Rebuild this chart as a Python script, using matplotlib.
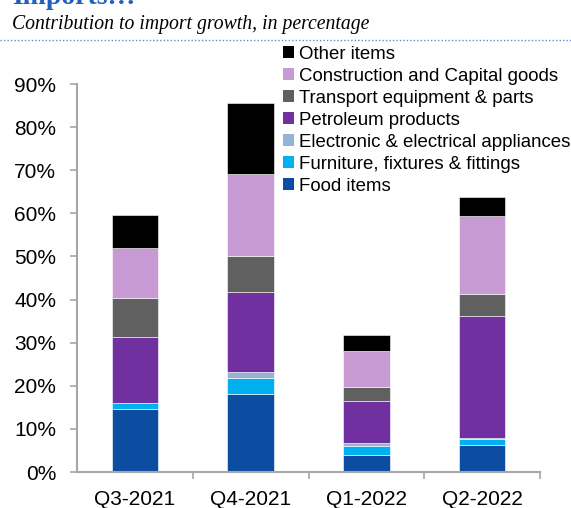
import matplotlib
matplotlib.use("Agg")
import matplotlib.pyplot as plt
from matplotlib.lines import Line2D
from matplotlib.patches import Patch
from matplotlib.ticker import FixedLocator, PercentFormatter

plt.rcParams["font.family"] = ["Liberation Sans", "DejaVu Sans"]

# ---------------------------------------------------------------------------
# Data (contribution to import growth, % points)
# ---------------------------------------------------------------------------
quarters = ["Q3-2021", "Q4-2021", "Q1-2022", "Q2-2022"]

food         = [14.6, 18.1, 3.9, 6.2]
furniture    = [1.4, 3.6, 2.1, 1.5]
electronics  = [0.1, 1.4, 0.7, 0.1]
petroleum    = [15.1, 18.6, 9.7, 28.4]
transport    = [9.1, 8.5, 3.3, 5.2]
construction = [11.6, 19.0, 8.4, 17.9]
other        = [7.6, 16.5, 3.7, 4.4]

series = [
    ("Food items",                        food,         "#0C4DA2"),
    ("Furniture, fixtures & fittings",    furniture,    "#00B0F0"),
    ("Electronic & electrical appliances", electronics, "#95B3D7"),
    ("Petroleum products",                petroleum,    "#7030A0"),
    ("Transport equipment & parts",       transport,    "#606060"),
    ("Construction and Capital goods",    construction, "#C89AD3"),
    ("Other items",                       other,        "#000000"),
]

AXIS_GRAY = "#A6A6A6"

fig = plt.figure(figsize=(5.71, 5.08), dpi=100)
ax = fig.add_axes([77 / 571, 1 - 472 / 508, (540 - 77) / 571, (472 - 84) / 508])

x = range(len(quarters))
bottom = [0.0] * len(quarters)
for name, vals, color in series:
    ax.bar(x, vals, width=0.4, bottom=bottom, color=color,
           edgecolor="white", linewidth=0.4, label=name)
    bottom = [b + v for b, v in zip(bottom, vals)]

ax.set_xlim(-0.5, len(quarters) - 0.5)
ax.set_ylim(0, 90)
ax.yaxis.set_major_locator(FixedLocator(range(0, 91, 10)))
ax.yaxis.set_major_formatter(PercentFormatter(decimals=0))

ax.set_xticks(list(x))
ax.set_xticklabels(quarters)
ax.xaxis.set_minor_locator(FixedLocator([0.5, 1.5, 2.5, 3.5]))
ax.tick_params(axis="x", which="major", length=0, pad=13, labelsize=15)
ax.tick_params(axis="x", which="minor", length=5, color=AXIS_GRAY, width=1.2)
ax.tick_params(axis="y", length=5, color=AXIS_GRAY, width=1.2, pad=10, labelsize=15)

for side in ("top", "right"):
    ax.spines[side].set_visible(False)
for side in ("left", "bottom"):
    ax.spines[side].set_color(AXIS_GRAY)
    ax.spines[side].set_linewidth(1.5)

# legend, reversed order like the original
handles = [Patch(facecolor=c, edgecolor="none") for _, _, c in series][::-1]
labels = [n for n, _, _ in series][::-1]
fig.legend(handles, labels, loc="upper left", bbox_to_anchor=(279 / 571, 1 - 42 / 508),
           frameon=False, fontsize=13.4, handlelength=0.6, handleheight=0.6,
           handletextpad=0.3, labelspacing=0.27, borderaxespad=0, borderpad=0.2)

# header
fig.text(12 / 571, 1 - 4 / 508, "Imports\u2026", color="#1F5FBF", fontsize=20,
         fontweight="bold", family=["Liberation Serif", "DejaVu Serif"], va="baseline")
fig.text(12 / 571, 1 - 29 / 508, "Contribution to import growth, in percentage",
         fontsize=14.2, style="italic", family=["Liberation Serif", "DejaVu Serif"],
         va="baseline")
fig.add_artist(Line2D([0, 1], [1 - 40 / 508] * 2, color="#5B8BD0", lw=1,
                      linestyle=(0, (1, 1.5)), transform=fig.transFigure))

fig.savefig("out.png", dpi=100)
